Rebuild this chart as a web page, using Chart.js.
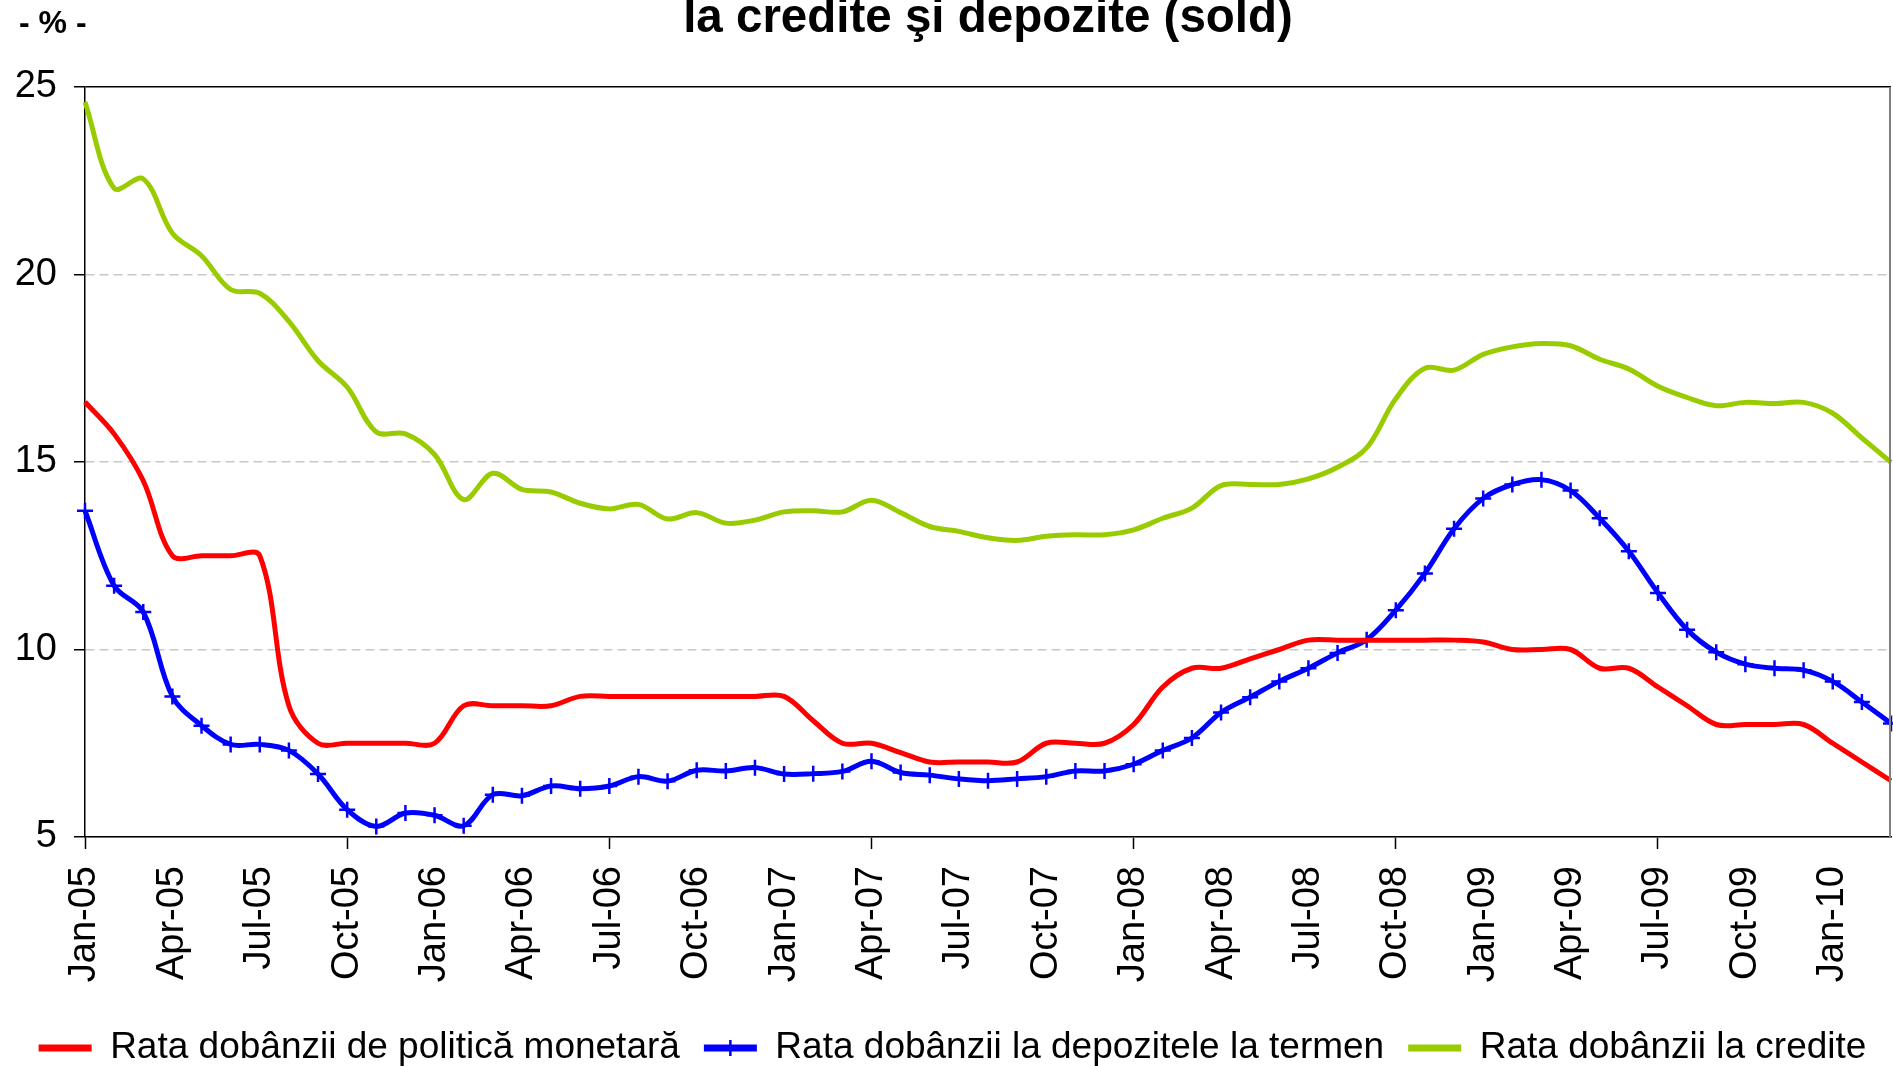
<!DOCTYPE html>
<html>
<head>
<meta charset="utf-8">
<script src="https://cdn.jsdelivr.net/npm/chart.js@4.4.1/dist/chart.umd.min.js"></script>
<style>
html, body { margin: 0; padding: 0; background: #fff; }
#wrap { width: 1893px; height: 1066px; position: relative; }
</style>
</head>
<body>
<div id="wrap"><canvas id="c"></canvas></div>
<script>
// Monthly categories, Jan-05 .. Mar-10
const months = [
  'Jan-05','Feb-05','Mar-05','Apr-05','May-05','Jun-05','Jul-05','Aug-05','Sep-05','Oct-05','Nov-05','Dec-05',
  'Jan-06','Feb-06','Mar-06','Apr-06','May-06','Jun-06','Jul-06','Aug-06','Sep-06','Oct-06','Nov-06','Dec-06',
  'Jan-07','Feb-07','Mar-07','Apr-07','May-07','Jun-07','Jul-07','Aug-07','Sep-07','Oct-07','Nov-07','Dec-07',
  'Jan-08','Feb-08','Mar-08','Apr-08','May-08','Jun-08','Jul-08','Aug-08','Sep-08','Oct-08','Nov-08','Dec-08',
  'Jan-09','Feb-09','Mar-09','Apr-09','May-09','Jun-09','Jul-09','Aug-09','Sep-09','Oct-09','Nov-09','Dec-09',
  'Jan-10','Feb-10','Mar-10'
];

// Rata dobânzii de politică monetară (%)
const policyRate = [
  16.6, 15.75, 14.5, 12.5, 12.5, 12.5, 12.5, 8.5, 7.5, 7.5, 7.5, 7.5,
  7.5, 8.5, 8.5, 8.5, 8.5, 8.75, 8.75, 8.75, 8.75, 8.75, 8.75, 8.75,
  8.75, 8.1, 7.5, 7.5, 7.25, 7.0, 7.0, 7.0, 7.0, 7.5, 7.5, 7.5,
  8.0, 9.0, 9.5, 9.5, 9.75, 10.0, 10.25, 10.25, 10.25, 10.25, 10.25, 10.25,
  10.2, 10.0, 10.0, 10.0, 9.5, 9.5, 9.0, 8.5, 8.0, 8.0, 8.0, 8.0,
  7.5, 7.0, 6.5
];

// Rata dobânzii la depozitele la termen (%)
const depositRate = [
  13.7, 11.7, 11.0, 8.75, 7.97, 7.47, 7.47, 7.31, 6.68, 5.73, 5.28, 5.64,
  5.58, 5.3, 6.13, 6.1, 6.36, 6.29, 6.36, 6.61, 6.49, 6.78, 6.76, 6.85,
  6.68, 6.69, 6.75, 7.02, 6.72, 6.65, 6.55, 6.5, 6.55, 6.61, 6.76, 6.76,
  6.94, 7.31, 7.64, 8.32, 8.73, 9.15, 9.5, 9.91, 10.26, 11.05, 12.03, 13.22,
  14.03, 14.4, 14.53, 14.24, 13.5, 12.62, 11.51, 10.53, 9.93, 9.61, 9.5, 9.45,
  9.15, 8.6, 8.03
];

// Rata dobânzii la credite (%)
const creditRate = [
  24.6, 22.3, 22.55, 21.1, 20.5, 19.6, 19.5, 18.75, 17.7, 17.0, 15.8, 15.75,
  15.2, 14.0, 14.7, 14.27, 14.2, 13.9, 13.75, 13.87, 13.48, 13.65, 13.37, 13.45,
  13.67, 13.7, 13.67, 13.98, 13.65, 13.28, 13.15, 12.98, 12.91, 13.02, 13.06, 13.06,
  13.19, 13.5, 13.77, 14.37, 14.4, 14.4, 14.55, 14.86, 15.38, 16.69, 17.5, 17.45,
  17.87, 18.07, 18.16, 18.1, 17.74, 17.48, 17.02, 16.72, 16.5, 16.59, 16.56, 16.59,
  16.3, 15.64, 14.99
];

const yTicks = [5, 10, 15, 20, 25];
const seriesNames = [
  'Rata dobânzii de politică monetară',
  'Rata dobânzii la depozitele la termen',
  'Rata dobânzii la credite'
];
const titleText = 'la credite şi depozite (sold)';
const unitText = '- % -';

const FONT = "'Liberation Sans', Arial, sans-serif";
Chart.defaults.font.family = FONT;
Chart.defaults.color = '#000';

// Plot frame (right edge), unit label and the cross marker on the deposit legend line
const decorations = {
  id: 'decorations',
  afterDraw(chart) {
    const { ctx, chartArea } = chart;
    ctx.save();
    ctx.strokeStyle = '#808080';
    ctx.lineWidth = 2;
    ctx.beginPath();
    ctx.moveTo(chartArea.right - 1, chartArea.top);
    ctx.lineTo(chartArea.right - 1, chartArea.bottom);
    ctx.stroke();

    ctx.fillStyle = '#000';
    ctx.font = 'bold 32px ' + FONT;
    ctx.textAlign = 'left';
    ctx.textBaseline = 'alphabetic';
    ctx.fillText(unitText, 19, 33);

    const boxes = chart.legend && chart.legend.legendHitBoxes;
    if (boxes && boxes[1]) {
      const hb = boxes[1];
      const lo = chart.options.plugins.legend.labels;
      const cx = hb.left + lo.boxWidth / 2;
      const cy = hb.top + lo.font.size / 2;
      ctx.strokeStyle = '#0000FF';
      ctx.lineWidth = 2.5;
      ctx.beginPath();
      ctx.moveTo(cx - 7, cy); ctx.lineTo(cx + 7, cy);
      ctx.moveTo(cx, cy - 8); ctx.lineTo(cx, cy + 8);
      ctx.stroke();
    }
    ctx.restore();
  }
};

new Chart(document.getElementById('c'), {
  type: 'line',
  data: {
    labels: months,
    datasets: [
      {
        label: seriesNames[0], data: policyRate,
        borderColor: '#FF0000', backgroundColor: '#FF0000',
        borderWidth: 5, pointRadius: 0, tension: 0.35
      },
      {
        label: seriesNames[1], data: depositRate,
        borderColor: '#0000FF', backgroundColor: '#0000FF',
        borderWidth: 5, tension: 0.35,
        pointStyle: 'cross', pointRadius: 8, pointBorderWidth: 2.5,
        pointBorderColor: '#0000FF', pointBackgroundColor: '#0000FF'
      },
      {
        label: seriesNames[2], data: creditRate,
        borderColor: '#99CC00', backgroundColor: '#99CC00',
        borderWidth: 5, pointRadius: 0, tension: 0.35
      }
    ]
  },
  options: {
    responsive: true,
    maintainAspectRatio: false,
    animation: false,
    layout: { autoPadding: false, padding: { left: 14, right: 2, top: 0, bottom: -10.5 } },
    plugins: {
      title: {
        display: true,
        text: titleText,
        fullSize: false,
        color: '#000',
        font: { size: 47.5, weight: 'bold', lineHeight: 0.7 },
        padding: { top: 2, bottom: 51.75 }
      },
      legend: {
        display: true,
        position: 'bottom',
        labels: {
          boxWidth: 53,
          boxHeight: 7,
          padding: 24,
          color: '#000',
          font: { size: 37, lineHeight: 1.0 },
          generateLabels(chart) {
            return Chart.defaults.plugins.legend.labels.generateLabels(chart).map(item => {
              item.lineWidth = 0;
              item.fillStyle = chart.data.datasets[item.datasetIndex].borderColor;
              return item;
            });
          }
        }
      },
      tooltip: { enabled: false }
    },
    scales: {
      x: {
        type: 'category',
        offset: false,
        afterFit(scale) {
          scale.height = 168.5;
          scale.paddingLeft = 0;
          scale.paddingRight = 0;
        },
        grid: {
          display: true,
          drawOnChartArea: false,
          drawTicks: true,
          tickLength: 12,
          tickColor: ctx => (ctx.index % 3 === 0 ? '#000' : 'rgba(0,0,0,0)'),
          tickWidth: ctx => (ctx.index % 3 === 0 ? 1.5 : 0)
        },
        border: { display: true, color: '#000', width: 1.5 },
        ticks: {
          autoSkip: false,
          maxRotation: 90,
          minRotation: 90,
          padding: 17,
          color: '#000',
          font: { size: 38 },
          callback: (val, idx) => (idx % 3 === 0 ? months[idx] : null)
        }
      },
      y: {
        min: 5,
        max: 25,
        afterBuildTicks: scale => { scale.ticks = yTicks.map(v => ({ value: v })); },
        afterFit(scale) { scale.width = 71; },
        grid: {
          color: ctx => (ctx.tick && ctx.tick.value === 25 ? '#000' : '#C8C8C8'),
          lineWidth: 1.5,
          drawTicks: true,
          tickLength: 11,
          tickColor: '#000'
        },
        border: {
          display: true, color: '#000', width: 1.5,
          dash: ctx => (ctx.tick && (ctx.tick.value === 5 || ctx.tick.value === 25) ? [] : [9, 5])
        },
        ticks: {
          padding: 17,
          color: '#000',
          font: { size: 38 }
        }
      }
    }
  },
  plugins: [decorations]
});
</script>
</body>
</html>
